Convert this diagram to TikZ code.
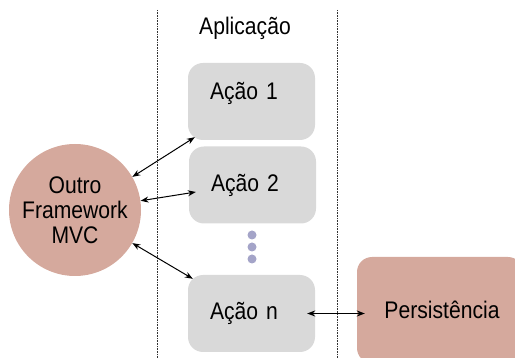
\documentclass[tikz,border=0pt]{standalone}
\usepackage{fontspec}
\setmainfont{Liberation Sans}[FakeStretch=0.88]
\usetikzlibrary{arrows.meta}
\definecolor{rosa}{HTML}{D5A99D}
\definecolor{cinza}{HTML}{D9D9D9}
\definecolor{ponto}{HTML}{A4A4C8}
\tikzset{
	texto/.style = {font = \fontsize{24}{25}\selectfont, inner sep = 0pt},
	acao/.style = {texto, fill = cinza, rounded corners = 15pt, minimum width = 127pt, minimum height = 77pt, inner xsep = 22pt, text width = 83pt, align = left},
	seta/.style = {{Stealth[length = 8pt, width = 6pt]}-{Stealth[length = 8pt, width = 6pt]}, line width = 1pt},
	divisa/.style = {densely dotted, line width = 0.6pt, black!80}
}
\begin{document}
\begin{tikzpicture} [x = 1pt, y = -1pt]
	\useasboundingbox (0,0) rectangle (515,358);
	\clip (0,0) rectangle (515,358);
	\draw [divisa] (157,10) -- (157,358);
	\draw [divisa] (337,10) -- (337,358);
	\node [texto] (app) at (245,28) {Aplicação};
	\node [acao] (a1) at (251.5,101.5) {\raisebox{8pt}[\height][\depth]{Ação 1}};
	\node [acao] (a2) at (252.5,185) {Ação 2};
	\node [acao] (an) at (251.5,313.5) {Ação n};
	\foreach \y in {235,247,259}
		\fill [ponto] (252,\y) circle (4.5);
	\node [texto, circle, fill = rosa, minimum size = 132pt, align = center, font = \fontsize{24}{25}\selectfont] (mvc) at (75,210) {Outro\\Framework\\MVC};
	\node [texto, fill = rosa, rounded corners = 15pt, minimum width = 166pt, minimum height = 106pt] (pers) at (440,310) {};
	\node [texto] (perst) at (442,310) {Persistência};
	%\node [texto] at (440,310) {Banco};
	\draw [seta] (mvc.30) -- ([xshift = 7pt, yshift = 3pt]a1.south west);
	\draw [seta] (mvc.8) -- ([xshift = 7pt, yshift = -7pt]a2.west);
	\draw [seta] (mvc.-30) -- ([xshift = 5pt, yshift = -4pt]an.north west);
	\draw [seta] ([xshift = -8pt]an.east) -- ([xshift = 8pt]pers.west |- an.east);
\end{tikzpicture}
\end{document}
